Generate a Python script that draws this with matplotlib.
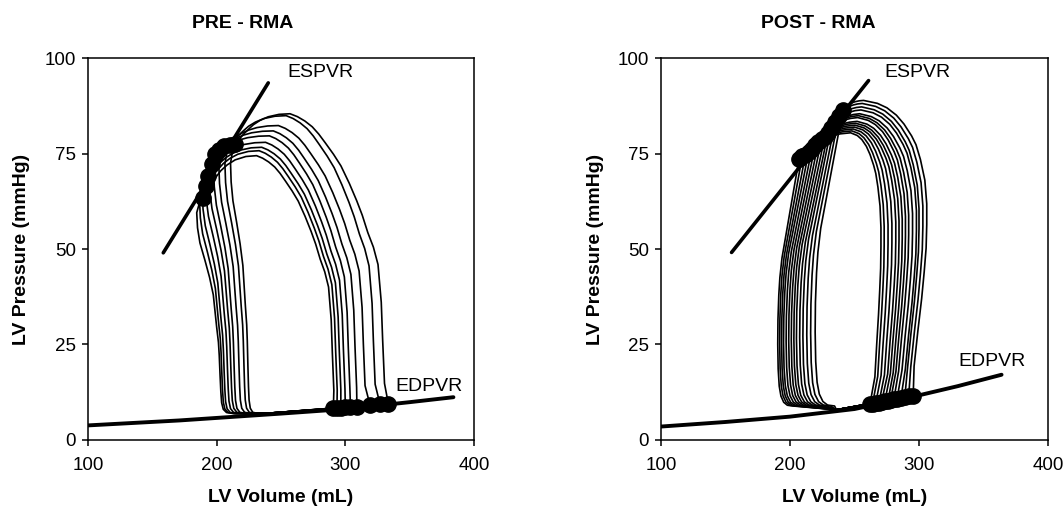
import matplotlib
matplotlib.use('Agg')
import matplotlib.pyplot as plt

plt.rcParams['font.family'] = ['Liberation Sans', 'DejaVu Sans']

# ---------------- PRE - RMA (one value per loop) ----------------
pre_esv = [189.5, 191.5, 193.5, 196.0, 198.7, 202.0, 206.0, 210.5, 214.5]
pre_esp = [63.5, 66.5, 69.2, 72.3, 74.9, 76.0, 77.0, 77.3, 77.5]
pre_edv = [290.7, 293.5, 296.5, 300.0, 304.0, 309.0, 319.2, 327.0, 333.4]
pre_edp = [8.2, 8.2, 8.3, 8.4, 8.5, 8.6, 9.0, 9.2, 9.4]
pre_pmax = [74.5, 75.8, 76.7, 78.0, 79.7, 81.0, 82.4, 85.0, 85.5]
pre_vpeak = [231, 233, 235, 238, 241, 244, 248, 254, 257]
pre_vwall = [289.9, 292.5, 295.3, 298.5, 302.3, 307.5, 314.0, 321.8, 329.0]   # right wall near 25 mmHg
pre_vleft = [202.0, 203.4, 205.2, 207.8, 210.4, 213.0, 216.8, 220.7, 223.8]   # left wall near 25 mmHg
pre_pbot = 6.8
pre_join = (240, 6.9)
pre_espvr_v = [158.5, 240.1]
pre_espvr_p = [49.0, 93.6]
pre_edpvr_v = [100, 171, 250, 300, 350, 384]
pre_edpvr_p = [3.7, 5.0, 6.8, 8.0, 9.8, 11.1]

# loop outline (PRE), read from the outer and inner loops
pre_rise_w = [0.07, 0.22, 0.35, 0.48, 0.54, 0.59, 0.65, 0.70, 0.76, 0.82, 0.86, 0.90, 0.93, 0.955, 0.975, 0.99, 1.0]
pre_rise_u = [1.02, 1.0, 0.985, 0.95, 0.9, 0.84, 0.78, 0.72, 0.64, 0.55, 0.47, 0.38, 0.31, 0.24, 0.16, 0.08, 0.0]
pre_top_s = [0, 0.08, 0.15, 0.24, 0.33, 0.45, 0.6, 0.8, 1.0]
pre_top_t = [0, 0.18, 0.33, 0.49, 0.64, 0.78, 0.9, 0.98, 1.0]
pre_fall_s = [0, -0.25, -0.4, -0.35, -0.2, 0.11, 0.4, 0.63, 0.84, 0.95, 1.0, 1.05, 1.1, 1.15, 1.25, 1.45, 1.9]
pre_fall_w = [1.0, 0.97, 0.93, 0.86, 0.79, 0.71, 0.63, 0.55, 0.4, 0.33, 0.27, 0.18, 0.1, 0.05, 0.02, 0.005, 0.0]

# ---------------- POST - RMA ----------------
post_esv = [207, 209.5, 212, 214.5, 217, 219.5, 222, 224.5, 227, 229.5, 232, 235, 238, 241]
post_esp = [73.6, 74.3, 74.8, 75.5, 76.3, 77.2, 78.0, 78.8, 79.5, 80.5, 81.8, 83.3, 85.0, 86.5]
post_edv = [262, 264, 266.5, 269, 271, 273.5, 276, 278, 280.5, 283, 286, 289, 292, 295.5]
post_edp = [9.3, 9.4, 9.6, 9.7, 9.9, 10.0, 10.2, 10.4, 10.5, 10.7, 10.9, 11.1, 11.3, 11.5]
post_pmax = [80.5, 81, 81.5, 82, 82.5, 83, 83.5, 84.5, 85, 85.5, 86.5, 87.3, 88.2, 89]
post_vpeak = [247, 248, 249, 250, 250.5, 251, 252, 252.5, 253, 254, 255, 255.5, 256, 257]
post_vwall = [270.5, 273, 276, 279, 282, 284.5, 287, 289.5, 292, 295, 298, 300, 303, 306]
post_vleft = [190.5, 192, 193.5, 195, 197, 199, 201, 203, 205, 207.5, 210, 213, 216, 219.5]
post_pbot = 8.8
post_join = (236, 7.8)
post_espvr_v = [154.7, 260.9]
post_espvr_p = [49.1, 94.2]
post_edpvr_v = [100, 150, 200, 250, 300, 330, 364]
post_edpvr_p = [3.4, 4.6, 6.0, 8.0, 11.6, 14.0, 17.0]

post_rise_w = [0.1, 0.22, 0.33, 0.42, 0.5, 0.58, 0.65, 0.73, 0.8, 0.85, 0.88, 0.92, 0.95, 0.975, 0.99, 1.0]
post_rise_u = [0.8, 0.86, 0.92, 0.96, 0.99, 1.0, 1.0, 0.97, 0.9, 0.83, 0.76, 0.64, 0.52, 0.37, 0.22, 0.0]
post_top_s = [0, 0.1, 0.2, 0.32, 0.45, 0.6, 0.8, 1.0]
post_top_t = [0, 0.22, 0.42, 0.6, 0.75, 0.87, 0.96, 1.0]
post_fall_s = [0, 0.2, 0.4, 0.6, 0.8, 0.9, 0.95, 0.99, 1.0, 0.98, 0.93, 0.85, 0.72, 0.55, 0.3]
post_fall_w = [1, 0.9, 0.8, 0.7, 0.6, 0.52, 0.45, 0.35, 0.25, 0.15, 0.08, 0.04, 0.015, 0.003, 0]


def loop_xy(esv, esp, edv, edp, pmax, vpeak, vwall, vleft, pbot, join,
            rise_w, rise_u, top_s, top_t, fall_s, fall_w):
    v, p = [edv], [edp]
    # ED -> peak (ejection side)
    for w, u in zip(rise_w, rise_u):
        v.append(vpeak + u * (vwall - vpeak))
        p.append(edp + w * (pmax - edp))
    # peak -> ES
    for s, t in zip(top_s[::-1][1:], top_t[::-1][1:]):
        v.append(esv + s * (vpeak - esv))
        p.append(esp + t * (pmax - esp))
    # ES -> bottom (relaxation)
    for s, w in zip(fall_s[1:], fall_w[1:]):
        v.append(esv + s * (vleft - esv))
        p.append(pbot + w * (esp - pbot))
    v += [join[0], edv]
    p += [join[1], edp]
    return v, p


fig = plt.figure(figsize=(10.64, 5.11), dpi=100)
ax1 = fig.add_axes([88 / 1064, 1 - 439.5 / 511, 386 / 1064, 381 / 511])
ax2 = fig.add_axes([661 / 1064, 1 - 439.5 / 511, 387 / 1064, 381 / 511])

panels = [
    (ax1, pre_esv, pre_esp, pre_edv, pre_edp, pre_pmax, pre_vpeak, pre_vwall, pre_vleft,
     pre_pbot, pre_join, pre_rise_w, pre_rise_u, pre_top_s, pre_top_t, pre_fall_s, pre_fall_w,
     pre_espvr_v, pre_espvr_p, pre_edpvr_v, pre_edpvr_p),
    (ax2, post_esv, post_esp, post_edv, post_edp, post_pmax, post_vpeak, post_vwall, post_vleft,
     post_pbot, post_join, post_rise_w, post_rise_u, post_top_s, post_top_t, post_fall_s, post_fall_w,
     post_espvr_v, post_espvr_p, post_edpvr_v, post_edpvr_p),
]

for (ax, esv, esp, edv, edp, pmax, vpeak, vwall, vleft, pbot, join,
     rw, ru, ts, tt, fs, fw, esv_l, esp_l, edv_l, edp_l) in panels:
    for i in range(len(esv)):
        v, p = loop_xy(esv[i], esp[i], edv[i], edp[i], pmax[i], vpeak[i], vwall[i],
                       vleft[i], pbot, join, rw, ru, ts, tt, fs, fw)
        ax.plot(v, p, color='black', lw=1.2, solid_joinstyle='round', zorder=2)
    ax.plot(esv_l, esp_l, color='black', lw=2.6, solid_capstyle='round', zorder=3)
    ax.plot(edv_l, edp_l, color='black', lw=2.8, solid_capstyle='round', zorder=3)
    ax.plot(esv, esp, 'o', color='black', ms=11, zorder=4)
    ax.plot(edv, edp, 'o', color='black', ms=11, zorder=4)

    ax.set_xlim(100, 400)
    ax.set_ylim(0, 100)
    ax.set_xticks([100, 200, 300, 400])
    ax.set_yticks([0, 25, 50, 75, 100])
    ax.tick_params(direction='out', length=4, width=1.1, labelsize=13.5, color='black')
    ax.tick_params(axis='x', pad=8.5)
    ax.tick_params(axis='y', pad=4.5)
    for sp in ax.spines.values():
        sp.set_linewidth(1.1)
        sp.set_color('black')

ax1.text(254.7, 96.3, 'ESPVR', fontsize=14, ha='left', va='center')
ax1.text(338.6, 14.0, 'EDPVR', fontsize=14, ha='left', va='center')
ax2.text(273.5, 96.4, 'ESPVR', fontsize=14, ha='left', va='center')
ax2.text(330.5, 20.4, 'EDPVR', fontsize=14, ha='left', va='center')

W, H = 1064, 511
fig.text(243 / W, 1 - 24 / H, 'PRE - RMA', fontsize=14, fontweight='bold', ha='center', va='center')
fig.text(818 / W, 1 - 24 / H, 'POST - RMA', fontsize=14, fontweight='bold', ha='center', va='center')
fig.text(281 / W, 1 - 497 / H, 'LV Volume (mL)', fontsize=14, fontweight='bold', ha='center', va='center')
fig.text(854.5 / W, 1 - 497 / H, 'LV Volume (mL)', fontsize=14, fontweight='bold', ha='center', va='center')
fig.text(22 / W, 1 - 249 / H, 'LV Pressure (mmHg)', fontsize=14, fontweight='bold', rotation=90,
         ha='center', va='center')
fig.text(595 / W, 1 - 249 / H, 'LV Pressure (mmHg)', fontsize=14, fontweight='bold', rotation=90,
         ha='center', va='center')

fig.savefig('out.png', dpi=100)
